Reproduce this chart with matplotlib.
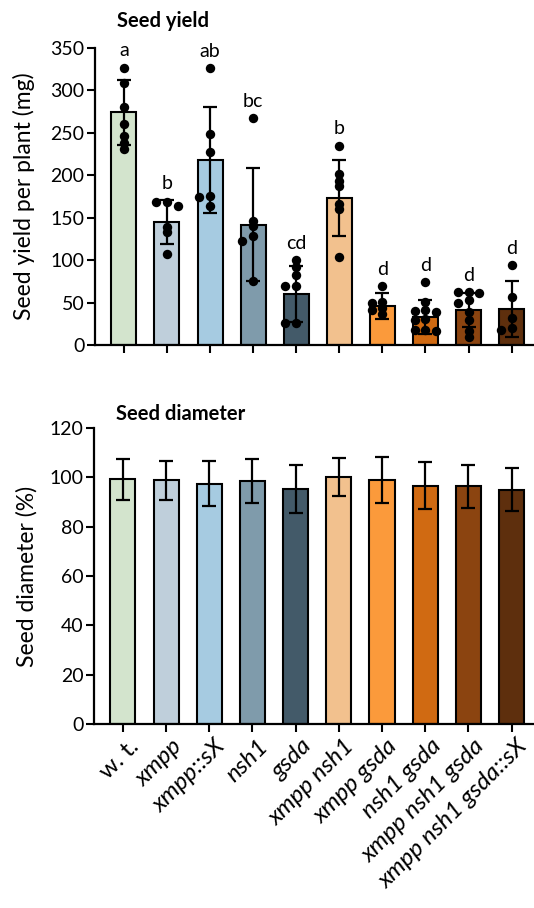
import matplotlib
matplotlib.use("Agg")
import matplotlib.pyplot as plt
import matplotlib.transforms as mtransforms
import numpy as np

plt.rcParams["font.family"] = ["Lato", "DejaVu Sans"]

GENOTYPES = ["w. t.", "xmpp", "xmpp::sX", "nsh1", "gsda", "xmpp nsh1",
             "xmpp gsda", "nsh1 gsda", "xmpp nsh1 gsda", "xmpp nsh1 gsda::sX"]
COLORS = ["#d3e4cd", "#bfcfdb", "#a6cbe1", "#7f9bab", "#435a69",
          "#f2c18e", "#fb9a3b", "#d06a12", "#8b4410", "#5e2f0d"]

# seed yield per plant (mg): mean, SD, single plants
YIELD_MEAN = [274, 145, 218, 142, 60, 173, 46, 33, 41, 42]
YIELD_SD = [38, 26, 62, 66, 33, 45, 15, 20, 20, 33]
YIELD_PLANTS = [
    [327, 309, 281, 261, 246, 238, 231],
    [169, 169, 164, 139, 133, 107],
    [326, 249, 228, 176, 175, 164],
    [267, 146, 140, 128, 123, 76],
    [100, 92, 82, 69, 69, 26, 26],
    [235, 201, 193, 187, 166, 160, 104],
    [69, 51, 50, 44, 41, 36],
    [74, 51, 41, 40, 39, 31, 29, 18, 18, 17],
    [62, 62, 61, 53, 50, 39, 30, 17, 9],
    [94, 56, 32, 20, 18],
]
YIELD_LETTERS = ["a", "b", "ab", "bc", "cd", "b", "d", "d", "d", "d"]

# seed diameter relative to wild type (%)
DIAM_MEAN = [99.2, 98.8, 97.5, 98.5, 95.2, 100.0, 99.0, 96.6, 96.3, 95.0]
DIAM_SD = [8.2, 8.0, 9.2, 8.9, 9.6, 7.7, 9.4, 9.5, 8.9, 8.8]

W, H = 534, 908
fig = plt.figure(figsize=(W / 100, H / 100), dpi=100, facecolor="white")


def px_axes(left, top, right, bottom):
    return fig.add_axes([left / W, 1 - bottom / H, (right - left) / W, (bottom - top) / H])


def style(ax, ymax, step):
    x = np.arange(len(GENOTYPES))
    ax.set_xlim(-0.67, 9.52)
    ax.set_ylim(0, ymax)
    ax.set_yticks(np.arange(0, ymax + 1, step))
    ax.set_xticks(x)
    for s in ("top", "right"):
        ax.spines[s].set_visible(False)
    for s in ("left", "bottom"):
        ax.spines[s].set_linewidth(1.6)
    ax.tick_params(axis="both", length=5.5, width=1.5, labelsize=14, pad=2)


def bars(ax, mean, sd):
    x = np.arange(len(GENOTYPES))
    ax.bar(x, mean, width=0.58, color=COLORS, edgecolor="black", linewidth=1.5, zorder=2)
    ax.errorbar(x, mean, yerr=sd, fmt="none", ecolor="black", elinewidth=1.6,
                capsize=4.8, capthick=1.6, zorder=3)


def swarm(ax, xc, values, dot_px=9.0, min_sep=5.0):
    """Place dots at the bar centre, pushing them sideways when they collide."""
    trans = ax.transData
    step = dot_px * 1.2 / (trans.transform((1, 0))[0] - trans.transform((0, 0))[0])
    placed = []
    xs = []
    ordered = sorted(values, reverse=True)
    for v in ordered:
        for k in (0, -1, 1, -2, 2, -3, 3):
            cand = trans.transform((xc + k * step, v))
            if all(np.hypot(*(cand - p)) >= min_sep for p in placed):
                placed.append(cand)
                xs.append(xc + k * step)
                break
    return xs, ordered


# Seed yield
ax1 = px_axes(95, 48, 534, 345)
style(ax1, 350, 50)
bars(ax1, YIELD_MEAN, YIELD_SD)
ax1.set_xticklabels([])
for i, pts in enumerate(YIELD_PLANTS):
    xs, ys = swarm(ax1, i, pts)
    ax1.scatter(xs, ys, s=46, color="black", linewidths=0, zorder=4)
    top = max(max(pts), YIELD_MEAN[i] + YIELD_SD[i])
    ax1.annotate(YIELD_LETTERS[i], (i, top), xytext=(0, 8), textcoords="offset points",
                 ha="center", va="baseline", fontsize=14)

fig.text(117 / W, 1 - 21 / H, "Seed yield", fontsize=14.5, fontweight="bold",
         ha="left", va="center")
fig.text(24 / W, 1 - 196 / H, "Seed yield per plant (mg)", fontsize=16.5,
         rotation=90, ha="center", va="center")

# Seed diameter
ax2 = px_axes(94, 428, 534, 724)
style(ax2, 120, 20)
bars(ax2, DIAM_MEAN, DIAM_SD)
ax2.set_xticklabels(GENOTYPES, rotation=45, ha="right", rotation_mode="anchor",
                    fontsize=17.5)
shift = mtransforms.ScaledTranslation(5 / 100, -1 / 100, fig.dpi_scale_trans)
for i, lab in enumerate(ax2.get_xticklabels()):
    lab.set_transform(lab.get_transform() + shift)
    if i > 0:
        lab.set_style("italic")

fig.text(116 / W, 1 - 414 / H, "Seed diameter", fontsize=14.5, fontweight="bold",
         ha="left", va="center")
fig.text(27 / W, 1 - 576 / H, "Seed diameter (%)", fontsize=16.5,
         rotation=90, ha="center", va="center")

fig.savefig("out.png", dpi=100, facecolor="white")
